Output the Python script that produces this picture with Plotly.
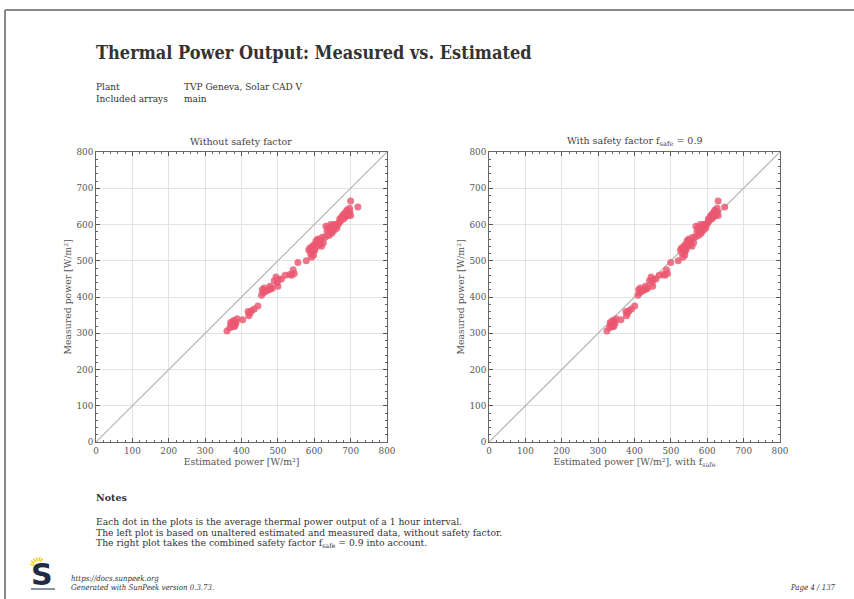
import plotly.graph_objects as go
import numpy as np

# ---- data ----
estimated = [360, 368, 372, 375, 378, 380, 383, 385, 388, 378, 370, 382,
             403, 418, 420, 423, 428, 435, 445,
             455, 457, 460, 462, 465, 470, 475, 478, 480, 485, 490, 495, 498, 500, 502, 510,
             520, 532, 538, 542, 545, 555,
             578, 585, 588, 590, 592, 595, 597, 598, 600, 602, 605, 607, 610, 612, 615, 618,
             620, 622, 625, 630, 632, 635, 638, 640, 642, 645, 647, 650, 652, 655, 658, 660,
             662, 665, 668, 670, 672, 675, 678, 680, 682, 685, 688, 690, 692, 695, 697, 698,
             700, 700, 720, 600, 595, 610, 645, 650, 655, 685, 690]
measured = [306, 315, 322, 330, 318, 325, 333, 328, 340, 335, 330, 320,
            337, 360, 348, 355, 362, 367, 375,
            405, 420, 412, 425, 415, 418, 420, 430, 422, 425, 445, 455, 440, 430, 448, 450,
            460, 462, 460, 475, 465, 495,
            500, 530, 535, 520, 510, 540, 525, 515, 545, 530, 555, 540, 560, 550, 545, 555,
            540, 565, 550, 565, 595, 580, 590, 570, 585, 600, 575, 595, 590, 585, 600, 595,
            590, 600, 605, 615, 610, 620, 625, 615, 630, 620, 635, 640, 625, 630, 645, 635,
            665, 625, 648, 535, 530, 555, 590, 580, 600, 625, 630]
f_safe = 0.9
axis_ticks = [0, 100, 200, 300, 400, 500, 600, 700, 800]

W, H = 854, 599
def X(px):
    return px / W
def Y(py):
    return 1 - py / H

serif = "DejaVu Serif Condensed, DejaVu Serif, serif"
serif_plain = "DejaVu Serif, serif"
text_col = "#333333"
dot_col = "rgba(234,88,112,0.82)"
axis_text = "#555555"

fig = go.Figure()

est = np.array(estimated, dtype=float)
mea = np.array(measured, dtype=float)

for xs, xa, ya in [(est, "x", "y"), (est * f_safe, "x2", "y2")]:
    fig.add_trace(go.Scatter(x=[0, 800], y=[0, 800], mode="lines",
                             line=dict(color="#b5b5b5", width=1.2),
                             xaxis=xa, yaxis=ya, showlegend=False, hoverinfo="skip"))
    fig.add_trace(go.Scatter(x=xs, y=mea, mode="markers",
                             marker=dict(color=dot_col, size=7, line=dict(width=0)),
                             xaxis=xa, yaxis=ya, showlegend=False))

axis_common = dict(range=[0, 800], tickvals=axis_ticks, ticks="inside", ticklen=4,
                   tickcolor="#555", showline=True, linecolor="#666", linewidth=1,
                   mirror="allticks", showgrid=True, gridcolor="#e3e3e3", gridwidth=1,
                   zeroline=False, automargin=False,
                   tickfont=dict(family=serif_plain, size=8.8, color=axis_text),
                   minor=dict(dtick=20, ticks="inside", ticklen=2, tickcolor="#666", showgrid=False),
                   fixedrange=True)

def atitle(s):
    return dict(text=s, standoff=3, font=dict(family=serif_plain, size=9.3, color=axis_text))

fig.update_layout(
    template="none",
    width=W, height=H, margin=dict(l=0, r=0, t=0, b=0, autoexpand=False),
    paper_bgcolor="white", plot_bgcolor="white",
    xaxis=dict(axis_common, domain=[X(96), X(387)], anchor="y",
               title=atitle("Estimated power [W/m²]")),
    yaxis=dict(axis_common, domain=[Y(442), Y(152)], anchor="x",
               title=atitle("Measured power [W/m²]")),
    xaxis2=dict(axis_common, domain=[X(489), X(780)], anchor="y2",
                title=atitle("Estimated power [W/m²], with f<sub>safe</sub>")),
    yaxis2=dict(axis_common, domain=[Y(442), Y(152)], anchor="x2",
                title=atitle("Measured power [W/m²]")),
)

ann = []
def txt(x, y, s, size, family=serif, color=text_col, xanchor="left", bold=False, italic=False):
    if bold:
        s = "<b>" + s + "</b>"
    if italic:
        s = "<i>" + s + "</i>"
    ann.append(dict(x=X(x), y=Y(y), xref="paper", yref="paper", text=s, showarrow=False,
                    xanchor=xanchor, yanchor="middle", borderpad=0,
                    font=dict(family=family, size=size, color=color)))

txt(95, 53, "Thermal Power Output: Measured vs. Estimated", 18, bold=True)
txt(95, 87, "Plant", 10)
txt(183, 87, "TVP Geneva, Solar CAD V", 10)
txt(95, 98, "Included arrays", 10)
txt(183, 98, "main", 10)
txt(241.5, 142, "Without safety factor", 9.5, family=serif_plain, color="#444", xanchor="center")
txt(634.5, 142, "With safety factor f<sub>safe</sub> = 0.9", 9.5, family=serif_plain, color="#444", xanchor="center")
txt(95, 497, "Notes", 9.5, family=serif_plain, bold=True)
txt(95, 521, "Each dot in the plots is the average thermal power output of a 1 hour interval.", 9.2, family=serif_plain)
txt(95, 532, "The left plot is based on unaltered estimated and measured data, without safety factor.", 9.2, family=serif_plain)
txt(95, 543, "The right plot takes the combined safety factor f<sub>safe</sub> = 0.9 into account.", 9.2, family=serif_plain)
txt(70, 578, "https://docs.sunpeek.org", 7.8, italic=True)
txt(70, 587, "Generated with SunPeek version 0.3.73.", 7.8, italic=True)
txt(837, 587, "Page 4 / 137", 7.8, italic=True, xanchor="right")
# logo letter
ann.append(dict(x=X(42), y=Y(574), xref="paper", yref="paper", text="<b>S</b>", showarrow=False,
                xanchor="center", yanchor="middle",
                font=dict(family="DejaVu Sans, sans-serif", size=30, color="#1f2a44")))
fig.update_layout(annotations=ann)

shapes = []
# page border lines
shapes.append(dict(type="line", xref="paper", yref="paper", x0=X(5), x1=1, y0=Y(10), y1=Y(10),
                   line=dict(color="#8a8a8a", width=2)))
shapes.append(dict(type="line", xref="paper", yref="paper", x0=X(5), x1=X(5), y0=Y(10), y1=0,
                   line=dict(color="#8a8a8a", width=2)))
# logo underline
shapes.append(dict(type="line", xref="paper", yref="paper", x0=X(31), x1=X(55), y0=Y(589), y1=Y(589),
                   line=dict(color="#8a94a0", width=2)))
# logo sun rays
cx, cy = 38, 565
for ang in [100, 125, 150, 175, 55, 75]:
    a = np.deg2rad(ang)
    x0, y0 = cx + 4 * np.cos(a), cy - 4 * np.sin(a)
    x1, y1 = cx + 8 * np.cos(a), cy - 8 * np.sin(a)
    shapes.append(dict(type="line", xref="paper", yref="paper", x0=X(x0), x1=X(x1), y0=Y(y0), y1=Y(y1),
                       line=dict(color="#f2d21b", width=1.5)))
fig.update_layout(shapes=shapes)

fig.write_html("out.html")
